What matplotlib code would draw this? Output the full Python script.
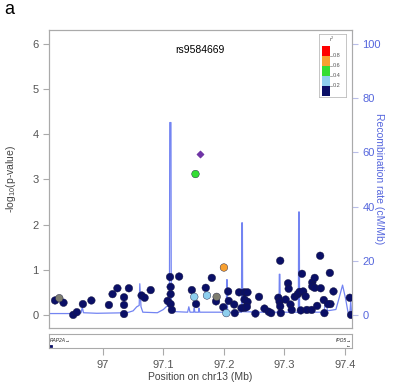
import matplotlib
matplotlib.use('Agg')
import matplotlib.pyplot as plt
from matplotlib.patches import Rectangle
import numpy as np

plt.rcParams['font.family'] = ['Liberation Sans', 'DejaVu Sans']
plt.rcParams['mathtext.default'] = 'regular'

# SNP positions (Mb), -log10(p) and LD r^2 (nan = no LD info)
snp_pos = [96.921, 96.935, 96.951, 96.957, 96.967, 96.981, 97.010, 97.016,
           97.024, 97.035, 97.035, 97.035, 97.043, 97.064, 97.069, 97.079,
           97.107, 97.111, 97.126, 97.112, 97.112, 97.112, 97.114, 97.147,
           97.154, 97.170, 97.180, 97.187, 97.199, 97.207, 97.208, 97.217,
           97.218, 97.225, 97.234, 97.234, 97.235, 97.229, 97.239, 97.239,
           97.238, 97.258, 97.252, 97.267, 97.274, 97.278, 97.293, 97.290,
           97.292, 97.293, 97.294, 97.302, 97.306, 97.307, 97.310, 97.312,
           97.317, 97.322, 97.325, 97.329, 97.331, 97.335, 97.327, 97.337,
           97.345, 97.346, 97.346, 97.350, 97.350, 97.359, 97.354, 97.360,
           97.365, 97.366, 97.375, 97.381, 97.376, 97.372, 97.408, 97.410,
           96.928, 97.188,
           97.151, 97.172, 97.204,
           97.153,
           97.200]
snp_logp = [0.32, 0.27, 0.00, 0.06, 0.24, 0.32, 0.22, 0.46,
            0.59, 0.39, 0.22, 0.02, 0.59, 0.43, 0.38, 0.55,
            0.31, 0.84, 0.85, 0.62, 0.46, 0.24, 0.11, 0.55,
            0.24, 0.60, 0.82, 0.30, 0.17, 0.52, 0.31, 0.23,
            0.04, 0.50, 0.50, 0.34, 0.16, 0.15, 0.50, 0.29,
            0.18, 0.40, 0.03, 0.14, 0.07, 0.04, 1.20, 0.38,
            0.29, 0.19, 0.04, 0.34, 0.70, 0.58, 0.23, 0.11,
            0.40, 0.46, 0.51, 0.91, 0.52, 0.41, 0.10, 0.11,
            0.11, 0.72, 0.63, 0.82, 0.60, 1.31, 0.20, 0.59,
            0.33, 0.04, 0.93, 0.52, 0.24, 0.24, 0.38, 0.00,
            0.37, 0.40,
            0.40, 0.43, 0.04,
            3.12,
            1.05]
snp_r2 = [0.05] * 80 + [np.nan, np.nan] + [0.3, 0.3, 0.3] + [0.5] + [0.7]

lead_pos = 97.160
lead_logp = 3.56
lead_name = 'rs9584669'

# recombination rate (cM/Mb)
rec_pos = [96.911, 96.955, 96.964, 96.966, 96.968, 96.990, 97.040, 97.050,
           97.056, 97.060, 97.061, 97.063, 97.066, 97.090, 97.100, 97.107,
           97.110, 97.1105, 97.1125, 97.113, 97.120, 97.140, 97.142, 97.144,
           97.150, 97.151, 97.152, 97.158, 97.159, 97.160, 97.185, 97.204,
           97.2045, 97.2055, 97.206, 97.229, 97.2295, 97.2305, 97.231, 97.260,
           97.291, 97.2915, 97.2925, 97.293, 97.323, 97.3235, 97.3245, 97.325,
           97.365, 97.369, 97.371, 97.385, 97.390, 97.396, 97.401, 97.405,
           97.408, 97.4095, 97.411]
rec_rate = [0.5, 0.5, 0.8, 2.8, 0.8, 0.6, 0.8, 1.5,
            3.0, 3.5, 11.5, 3.0, 1.0, 0.8, 2.0, 3.5,
            3.5, 71.0, 71.0, 2.5, 1.2, 1.0, 3.0, 1.0,
            1.0, 2.5, 1.0, 1.0, 2.5, 1.0, 1.0, 1.0,
            13.0, 13.0, 1.0, 1.0, 34.0, 34.0, 1.2, 1.0,
            1.0, 15.0, 15.0, 1.0, 1.0, 38.0, 38.0, 1.0,
            1.0, 6.0, 1.5, 2.0, 6.0, 11.0, 6.0, 1.0,
            0.5, 5.0, 0.5]

legend_vals = ['0.8', '0.6', '0.4', '0.2']
legend_cols = ['#ff0000', '#f7a030', '#33dd33', '#8ecfee', '#0a0f66']


def r2_color(r):
    if np.isnan(r):
        return '#7d7d70'
    if r >= 0.8:
        return legend_cols[0]
    if r >= 0.6:
        return legend_cols[1]
    if r >= 0.4:
        return legend_cols[2]
    if r >= 0.2:
        return legend_cols[3]
    return legend_cols[4]


W, H = 400, 385
fig = plt.figure(figsize=(W / 100, H / 100), dpi=100)


def fbox(x0, y0, x1, y1):
    return [x0 / W, 1 - y1 / H, (x1 - x0) / W, (y1 - y0) / H]


grey = '#aaaaaa'
tick_grey = '#555555'
rec_col = '#5a6ef0'
rec_text = '#5566dd'

ax = fig.add_axes(fbox(49, 30, 352, 328))
ax2 = ax.twinx()
ax.set_zorder(ax2.get_zorder() + 1)
ax.patch.set_visible(False)

xlim = (96.911, 97.4116)
ax.set_xlim(xlim)
ax.set_ylim(-0.29, 6.31)
ax2.set_ylim(-0.29 * 100 / 6, 6.31 * 100 / 6)

ax2.plot(rec_pos, rec_rate, color=rec_col, lw=0.9, alpha=0.85)

cols = [r2_color(r) for r in snp_r2]
order = np.argsort([0 if c == legend_cols[4] else 1 for c in cols], kind='stable')
ax.scatter(np.array(snp_pos)[order], np.array(snp_logp)[order],
           c=np.array(cols)[order], s=30, edgecolors='#1a1a40',
           linewidths=0.3, zorder=3)
ax.scatter([lead_pos], [lead_logp], marker='D', s=14, c='#7033a8',
           edgecolors='#5a2090', linewidths=0.3, zorder=4)
ax.text(lead_pos, 5.86, lead_name, ha='center', va='center', fontsize=7.5)

ax.set_xticks([])
ax.set_yticks(range(7))
ax.tick_params(axis='y', colors=grey, labelcolor=tick_grey, labelsize=8,
               length=4, width=0.8)
ax.set_ylabel(r'-log$_{10}$(p-value)', fontsize=7.5, color='#444444',
              labelpad=10)
for sp in ax.spines.values():
    sp.set_color(grey)
    sp.set_linewidth(0.8)
for sp in ax2.spines.values():
    sp.set_color(grey)
    sp.set_linewidth(0.8)
ax2.spines['right'].set_color('#b8bde8')

ax2.set_yticks(range(0, 101, 20))
ax2.tick_params(axis='y', colors='#b8bde8', labelcolor=rec_text,
                labelsize=8, length=4, width=0.8)
ax2.set_ylabel('Recombination rate (cM/Mb)', rotation=270, fontsize=7.5,
               color=rec_text, labelpad=2)

# gene panel
gax = fig.add_axes(fbox(49, 334, 352, 348))
gax.set_xlim(xlim)
gax.set_ylim(0, 1)
gax.set_yticks([])
gax.set_xticks([97.0, 97.1, 97.2, 97.3, 97.4])
gax.set_xticklabels(['97', '97.1', '97.2', '97.3', '97.4'])
gax.tick_params(axis='x', colors=grey, labelcolor=tick_grey, labelsize=8,
                length=5, width=0.8, pad=4)
for sp in gax.spines.values():
    sp.set_color(grey)
    sp.set_linewidth(0.8)
gax.text(96.913, 0.55, 'RAP2A\u2192', fontsize=3.5, style='italic',
         va='center', ha='left', color='#222222')
gax.plot([96.9115, 96.9135], [0.12, 0.12], color='#0a0f66', lw=2)
gax.text(97.4105, 0.55, 'IPO5\u2192', fontsize=3.5, style='italic',
         va='center', ha='right', color='#222222')
gax.text(97.4105, 0.15, '\u2190', fontsize=3.5, va='center', ha='right',
         color='#222222')
gax.set_xlabel('Position on chr13 (Mb)', fontsize=7.5, color='#444444',
               labelpad=1)

# r^2 legend
lax = fig.add_axes(fbox(319, 34, 346, 97))
lax.set_xlim(319, 346)
lax.set_ylim(97, 34)
lax.set_xticks([])
lax.set_yticks([])
for sp in lax.spines.values():
    sp.set_color('#bbbbbb')
    sp.set_linewidth(0.6)
top = 45.5
for i, c in enumerate(legend_cols):
    lax.add_patch(Rectangle((321.5, top + i * 10), 8.5, 10, facecolor=c,
                            edgecolor='none'))
for i, v in enumerate(legend_vals):
    yy = top + (i + 1) * 10
    lax.plot([330, 332], [yy, yy], color='#888888', lw=0.5)
    lax.text(333, yy, v, fontsize=4, va='center', ha='left', color='#555555')
lax.text(332, 39, r'$r^2$', fontsize=4, ha='center', va='center',
         color='#555555')

fig.text(4 / W, 1 - 10 / H, 'a', fontsize=13, va='center', ha='left')

fig.savefig('out.png', dpi=100)
